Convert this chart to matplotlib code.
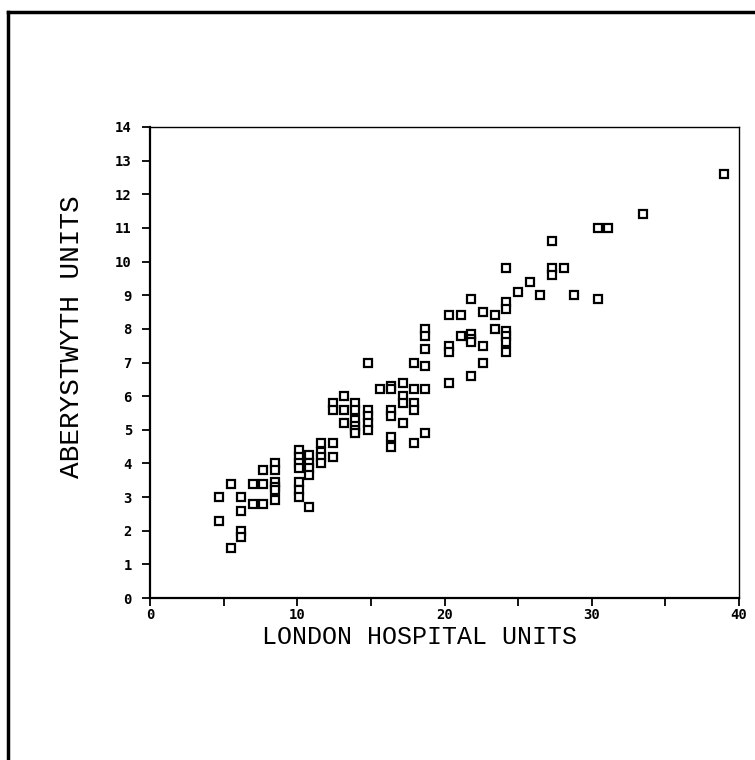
import matplotlib
matplotlib.use('Agg')
import matplotlib.pyplot as plt
from matplotlib.lines import Line2D

# London Hospital units (x) and Aberystwyth units (y)
london = [4.7, 4.7,
          5.5, 5.5,
          6.2, 6.2, 6.2, 6.2,
          7.0, 7.0,
          7.7, 7.7, 7.7,
          8.5, 8.5, 8.5, 8.5, 8.5, 8.5,
          10.1, 10.1, 10.1, 10.1, 10.1, 10.1, 10.1,
          10.8, 10.8, 10.8, 10.8, 10.8,
          11.6, 11.6, 11.6, 11.6,
          12.4, 12.4, 12.4, 12.4,
          13.2, 13.2, 13.2,
          13.9, 13.9, 13.9, 13.9, 13.9, 13.9,
          14.8, 14.8, 14.8, 14.8, 14.8,
          15.6,
          16.4, 16.4, 16.4, 16.4, 16.4, 16.4,
          17.2, 17.2, 17.2, 17.2,
          17.9, 17.9, 17.9, 17.9, 17.9,
          18.7, 18.7, 18.7, 18.7, 18.7, 18.7,
          20.3, 20.3, 20.3, 20.3,
          21.1, 21.1,
          21.8, 21.8, 21.8, 21.8, 21.8,
          22.6, 22.6, 22.6,
          23.4, 23.4,
          24.2, 24.2, 24.2, 24.2, 24.2, 24.2, 24.2,
          25.0, 25.8, 26.5,
          27.3, 27.3, 27.3,
          28.1, 28.8,
          30.4, 30.4,
          31.1, 33.5, 39.0]

aber = [3.0, 2.3,
        3.4, 1.5,
        3.0, 2.6, 2.0, 1.8,
        3.4, 2.8,
        3.8, 3.4, 2.8,
        4.0, 3.8, 3.45, 3.3, 3.2, 2.9,
        4.4, 4.2, 4.0, 3.85, 3.45, 3.2, 3.0,
        4.25, 4.0, 3.85, 3.65, 2.7,
        4.6, 4.35, 4.2, 4.0,
        5.8, 5.6, 4.6, 4.2,
        6.0, 5.6, 5.2,
        5.8, 5.6, 5.3, 5.1, 5.0, 4.9,
        7.0, 5.6, 5.4, 5.2, 5.0,
        6.2,
        6.3, 6.2, 5.6, 5.4, 4.8, 4.5,
        6.4, 6.0, 5.8, 5.2,
        7.0, 6.2, 5.8, 5.6, 4.6,
        8.0, 7.8, 7.4, 6.9, 6.2, 4.9,
        8.4, 7.5, 7.3, 6.4,
        8.4, 7.8,
        8.9, 7.85, 7.7, 7.6, 6.6,
        8.5, 7.5, 7.0,
        8.4, 8.0,
        9.8, 8.8, 8.6, 7.95, 7.8, 7.6, 7.3,
        9.1, 9.4, 9.0,
        10.6, 9.8, 9.6,
        9.8, 9.0,
        11.0, 8.9,
        11.0, 11.4, 12.6]

x_ticks = [0, 5, 10, 15, 20, 25, 30, 35, 40]
x_labels = ['0', '', '10', '', '20', '', '30', '', '40']
y_ticks = list(range(0, 15))

fig = plt.figure(figsize=(7.55, 7.6), dpi=100)
ax = fig.add_axes([150/755, 1 - 598/760, 589/755, 471/760])

ax.plot(london, aber, linestyle='none', marker='s', markersize=5.5,
        markerfacecolor='white', markeredgecolor='black', markeredgewidth=1.6)

ax.set_xlim(0, 40)
ax.set_ylim(0, 14)
ax.set_xticks(x_ticks)
ax.set_xticklabels(x_labels)
ax.set_yticks(y_ticks)
ax.set_yticklabels([str(v) for v in y_ticks])
ax.tick_params(direction='out', length=6, width=1.3, labelsize=10, colors='black')
ax.tick_params(axis='x', pad=1.5)
ax.tick_params(axis='y', pad=7)
for lab in ax.get_xticklabels() + ax.get_yticklabels():
    lab.set_family('DejaVu Sans Mono')
    lab.set_fontweight('bold')

for side in ['left', 'bottom']:
    ax.spines[side].set_linewidth(1.6)
for side in ['top', 'right']:
    ax.spines[side].set_linewidth(1.0)

ax.set_xlabel('LONDON HOSPITAL UNITS', family='Liberation Mono', fontsize=18)
ax.set_ylabel('ABERYSTWYTH UNITS', family='Liberation Mono', fontsize=20)
ax.xaxis.set_label_coords(0.4576, -0.083)
ax.yaxis.set_label_coords(-0.132, 0.554)
ax.xaxis.label.set_verticalalignment('center')
ax.yaxis.label.set_verticalalignment('center')

# outer frame of the scanned page
fig.add_artist(Line2D([8/755, 8/755], [0, 1 - 12/760], color='black', lw=2.5))
fig.add_artist(Line2D([8/755, 1], [1 - 12/760, 1 - 12/760], color='black', lw=2.5))

fig.savefig('out.png', dpi=100)
